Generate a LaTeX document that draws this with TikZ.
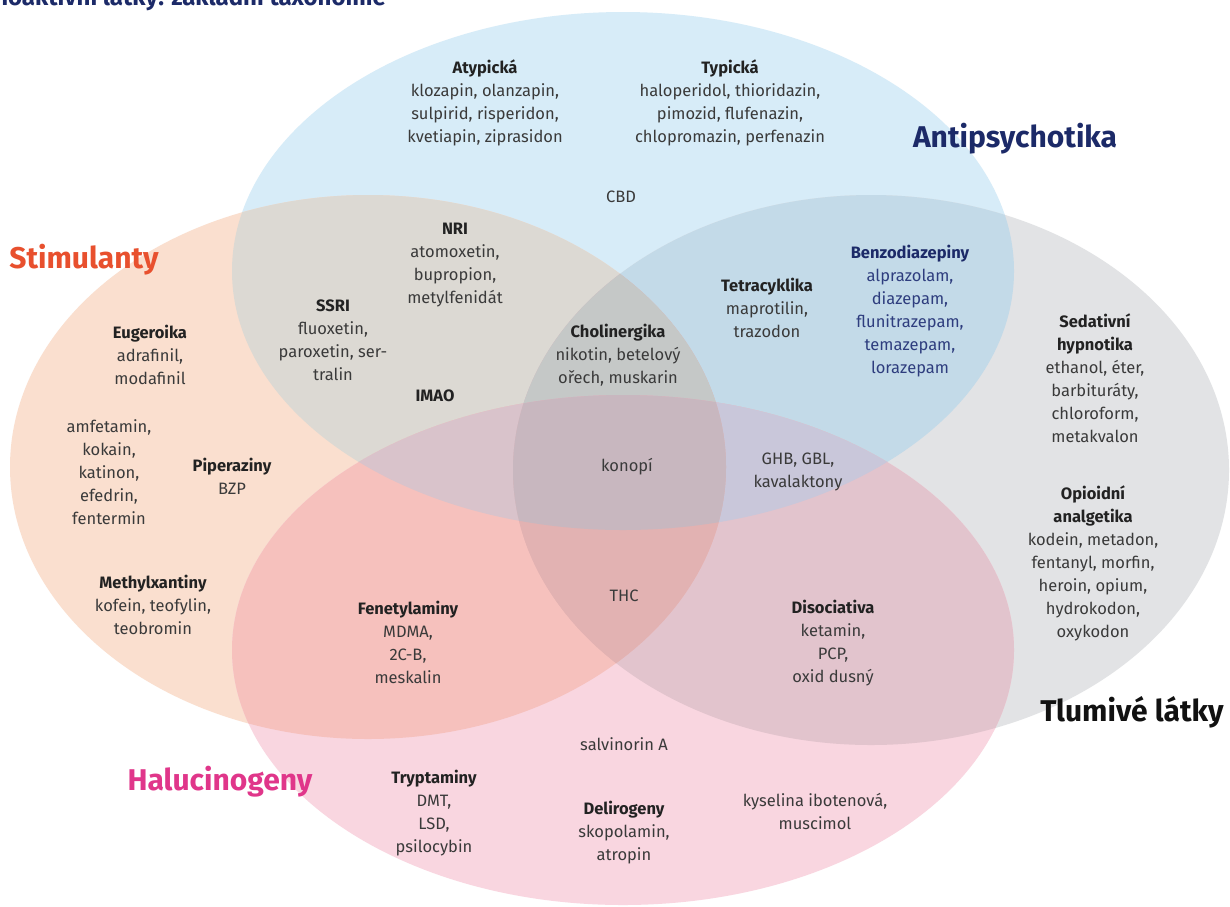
\documentclass[tikz,border=0pt]{standalone}
\usepackage{fontspec}
\setmainfont{Fira Sans}
\definecolor{blueF}{HTML}{D7ECF8}
\definecolor{peachF}{HTML}{FADFCF}
\definecolor{greyF}{HTML}{E2E3E5}
\definecolor{pinkF}{HTML}{F9D6E0}
\definecolor{bpF}{HTML}{DCD9D3}
\definecolor{bgF}{HTML}{C3DAE8}
\definecolor{gkF}{HTML}{E2C4CD}
\definecolor{pkF}{HTML}{F6C1BD}
\definecolor{bkF}{HTML}{D9C3CB}
\definecolor{pgF}{HTML}{E2B2B2}
\definecolor{bpgF}{HTML}{C5C8C7}
\definecolor{bpkF}{HTML}{D9C3CB}
\definecolor{bgkF}{HTML}{C9C7DA}
\definecolor{pgkF}{HTML}{E2B2B2}
\definecolor{allF}{HTML}{C8B7BF}
\definecolor{bodyC}{HTML}{3A3A3A}
\definecolor{headC}{HTML}{222222}
\definecolor{navyC}{HTML}{1C2A68}
\definecolor{navyT}{HTML}{2E3D7E}
\definecolor{stimC}{HTML}{E8502E}
\definecolor{halC}{HTML}{E0368A}
\definecolor{tlumC}{HTML}{111111}
\newcommand\grouphead[1]{\textbf{\color{headC}#1}}
\newcommand\ellB{(623,271) ellipse [x radius=391pt, y radius=259pt]}
\newcommand\ellP{(368,467) ellipse [x radius=358pt, y radius=272pt]}
\newcommand\ellG{(871,470) ellipse [x radius=358pt, y radius=275pt]}
\newcommand\ellK{(623,650) ellipse [x radius=391pt, y radius=255pt]}
\begin{document}
\begin{tikzpicture}[x=1pt,y=-1pt,
  txt/.style={align=center, text=bodyC, font=\fontsize{16.5}{23}\selectfont, inner sep=0pt},
  bighead/.style={font=\fontsize{30}{34}\selectfont\bfseries, inner sep=0pt}]
\useasboundingbox (0,0) rectangle (1230,906);
\clip (0,0) rectangle (1230,906);
\fill[white] (0,0) rectangle (1230,906);
% single ellipses
\fill[blueF]  \ellB;
\fill[peachF] \ellP;
\fill[greyF]  \ellG;
\fill[pinkF]  \ellK;
% pair overlaps
\begin{scope}\clip \ellB; \fill[bpF] \ellP; \end{scope}
\begin{scope}\clip \ellB; \fill[bgF] \ellG; \end{scope}
\begin{scope}\clip \ellB; \fill[bkF] \ellK; \end{scope}
\begin{scope}\clip \ellG; \fill[gkF] \ellK; \end{scope}
\begin{scope}\clip \ellP; \fill[pkF] \ellK; \end{scope}
\begin{scope}\clip \ellP; \fill[pgF] \ellG; \end{scope}
% triple overlaps
\begin{scope}\clip \ellB; \clip \ellP; \fill[bpgF] \ellG; \end{scope}
\begin{scope}\clip \ellB; \clip \ellP; \fill[bpkF] \ellK; \end{scope}
\begin{scope}\clip \ellB; \clip \ellG; \fill[bgkF] \ellK; \end{scope}
\begin{scope}\clip \ellP; \clip \ellG; \fill[pgkF] \ellK; \end{scope}
% all four
\begin{scope}\clip \ellB; \clip \ellP; \clip \ellG; \fill[allF] \ellK; \end{scope}
% title (cut off at the top, as in the source)
\node[anchor=base east, inner sep=0pt, text=navyC, font=\fontsize{24}{28}\selectfont\bfseries] (title) at (386,5) {Psychoaktivní látky: základní taxonomie};
% big headings
\node[bighead, text=navyC] (antips) at (1015,139) {Antipsychotika};
\node[bighead, text=stimC] (stim) at (84,260) {Stimulanty};
\node[bighead, text=tlumC] (tlum) at (1132,712) {Tlumivé látky};
\node[bighead, text=halC] (haluc) at (220,782) {Halucinogeny};
% groups
\node[txt] (atyp) at (485,102.5) {\grouphead{Atypická}\\klozapin, olanzapin,\\sulpirid, risperidon,\\kvetiapin, ziprasidon};
\node[txt] (typ) at (730,102.5) {\grouphead{Typická}\\haloperidol, thioridazin,\\pimozid, flufenazin,\\chlopromazin, perfenazin};
\node[txt] (cbd) at (621,197) {CBD};
\node[txt] (nri) at (455,265.5) {\grouphead{NRI}\\atomoxetin,\\bupropion,\\metylfenidát};
\node[txt] (ssri) at (333,340) {\grouphead{SSRI}\\fluoxetin,\\paroxetin, ser-\\tralin};
\node[txt] (imao) at (435,396) {\grouphead{IMAO}};
\node[txt] (chol) at (618,355) {\grouphead{Cholinergika}\\nikotin, betelový\\ořech, muskarin};
\node[txt] (tetra) at (767,308) {\grouphead{Tetracyklika}\\maprotilin,\\trazodon};
\node[txt, text=navyT] (benzo) at (910,311.5) {\textbf{\color{navyC}Benzodiazepiny}\\alprazolam,\\diazepam,\\flunitrazepam,\\temazepam,\\lorazepam};
\node[txt] (konopi) at (627,467) {konopí};
\node[txt] (ghb) at (798,471.5) {GHB, GBL,\\kavalaktony};
\node[txt] (sedat) at (1095,378.5) {\grouphead{Sedativní}\\\grouphead{hypnotika}\\ethanol, éter,\\barbituráty,\\chloroform,\\metakvalon};
\node[txt] (opioid) at (1093,563) {\grouphead{Opioidní}\\\grouphead{analgetika}\\kodein, metadon,\\fentanyl, morfin,\\heroin, opium,\\hydrokodon,\\oxykodon};
\node[txt] (eugero) at (150,355) {\grouphead{Eugeroika}\\adrafinil,\\modafinil};
\node[txt] (amfet) at (109,472) {amfetamin,\\kokain,\\katinon,\\efedrin,\\fentermin};
\node[txt] (piper) at (232,476.5) {\grouphead{Piperaziny}\\BZP};
\node[txt] (methyl) at (153,605) {\grouphead{Methylxantiny}\\kofein, teofylin,\\teobromin};
\node[txt] (fenet) at (408,642) {\grouphead{Fenetylaminy}\\MDMA,\\2C-B,\\meskalin};
\node[txt] (thc) at (624,596) {THC};
\node[txt] (disoc) at (833,643) {\grouphead{Disociativa}\\ketamin,\\PCP,\\oxid dusný};
\node[txt] (salv) at (624,744) {salvinorin A};
\node[txt] (trypt) at (434,813.5) {\grouphead{Tryptaminy}\\DMT,\\LSD,\\psilocybin};
\node[txt] (delir) at (624,832.5) {\grouphead{Delirogeny}\\skopolamin,\\atropin};
\node[txt] (kysel) at (815,811.5) {kyselina ibotenová,\\muscimol};
\end{tikzpicture}
\end{document}
